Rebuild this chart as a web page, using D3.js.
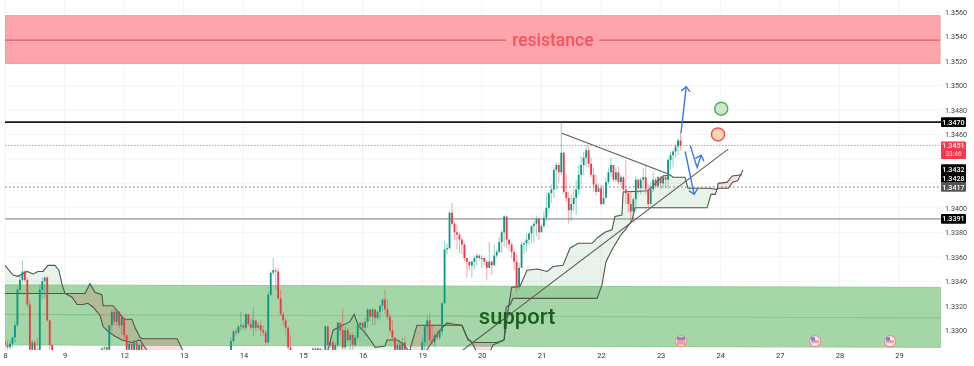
<!DOCTYPE html>
<html>
<head>
<meta charset="utf-8">
<title>USDCAD chart</title>
<script src="https://cdn.jsdelivr.net/npm/d3@7"></script>
<style>
    html, body { margin: 0; padding: 0; background: #fff; }
    svg { display: block; filter: blur(.45px); }
    text { font-family: Roboto, "Open Sans", sans-serif; }
</style>
</head>
<body>
<div id="canvas"></div>
<script>
"use strict"

/* Candles: hourly bars, hour 0 is the "8" tick. Bars that sit under the pane are left out, so there are segments */
const segmentStart = [0, 39, 91, 124, 168];
const segmentOpen = [1.3290, 1.3283, 1.3282, 1.3284, 1.3283];

const closeA = [1.3288, 1.3286, 1.3289, 1.3294, 1.3304, 1.3333, 1.3341, 1.3348, 1.3341, 1.3321, 1.3284, 1.3290, 1.3284, 1.3282, 1.3333, 1.3340, 1.3343, 1.3308, 1.3288, 1.3282];
const highA = [1.3292, 1.3292, 1.3292, 1.3295, 1.3307, 1.3335, 1.3345, 1.3357, 1.3349, 1.3343, 1.3325, 1.3292, 1.3292, 1.3294, 1.3337, 1.3343, 1.3344, 1.3344, 1.3308, 1.3288];
const lowA = [1.3282, 1.3282, 1.3284, 1.3286, 1.3290, 1.3303, 1.3331, 1.3339, 1.3339, 1.3318, 1.3282, 1.3282, 1.3282, 1.3281, 1.3282, 1.3325, 1.3326, 1.3307, 1.3284, 1.3280];

const closeB = [1.3285, 1.3286, 1.3284, 1.3304, 1.3315, 1.3307, 1.3315, 1.3304, 1.3310, 1.3296, 1.3284, 1.3289, 1.3284, 1.3290, 1.3283, 1.3288, 1.3284, 1.3282];
const highB = [1.3286, 1.3287, 1.3287, 1.3304, 1.3317, 1.3317, 1.3317, 1.3316, 1.3312, 1.3311, 1.3296, 1.3290, 1.3290, 1.3292, 1.3291, 1.3290, 1.3289, 1.3286];
const lowB = [1.3282, 1.3282, 1.3282, 1.3282, 1.3300, 1.3304, 1.3304, 1.3302, 1.3296, 1.3292, 1.3282, 1.3282, 1.3282, 1.3282, 1.3282, 1.3282, 1.3282, 1.3280];

const closeC = [1.3291, 1.3299, 1.3298, 1.3303, 1.3304, 1.3302, 1.3313, 1.3305, 1.3302, 1.3308, 1.3302, 1.3304, 1.3300, 1.3298, 1.3290, 1.3329, 1.3347, 1.3349, 1.3348, 1.3326, 1.3313, 1.3308, 1.3302, 1.3286, 1.3282];
const highC = [1.3294, 1.3300, 1.3302, 1.3304, 1.3315, 1.3306, 1.3314, 1.3313, 1.3310, 1.3319, 1.3308, 1.3307, 1.3308, 1.3304, 1.3300, 1.3331, 1.3348, 1.3359, 1.3351, 1.3351, 1.3333, 1.3315, 1.3310, 1.3304, 1.3296];
const lowC = [1.3282, 1.3290, 1.3295, 1.3297, 1.3300, 1.3300, 1.3300, 1.3303, 1.3300, 1.3295, 1.3299, 1.3300, 1.3295, 1.3295, 1.3288, 1.3290, 1.3328, 1.3345, 1.3333, 1.3325, 1.3312, 1.3304, 1.3296, 1.3284, 1.3281];

const closeD = [1.3285, 1.3283, 1.3285, 1.3280, 1.3280, 1.3303, 1.3288, 1.3290, 1.3284, 1.3288, 1.3306, 1.3300, 1.3286, 1.3300, 1.3292, 1.3296, 1.3288, 1.3294, 1.3304, 1.3306, 1.3302, 1.3307, 1.3317, 1.3311, 1.3317, 1.3310, 1.3315, 1.3320, 1.3325, 1.3317, 1.3311, 1.3300, 1.3294, 1.3284, 1.3288, 1.3283, 1.3290, 1.3284];
const highD = [1.3286, 1.3286, 1.3286, 1.3285, 1.3282, 1.3304, 1.3304, 1.3294, 1.3291, 1.3290, 1.3307, 1.3307, 1.3318, 1.3303, 1.3302, 1.3298, 1.3298, 1.3296, 1.3306, 1.3307, 1.3307, 1.3310, 1.3318, 1.3317, 1.3318, 1.3317, 1.3316, 1.3321, 1.3326, 1.3333, 1.3325, 1.3313, 1.3308, 1.3294, 1.3290, 1.3292, 1.3294, 1.3295];
const lowD = [1.3282, 1.3282, 1.3282, 1.3279, 1.3279, 1.3282, 1.3284, 1.3286, 1.3282, 1.3282, 1.3286, 1.3296, 1.3283, 1.3284, 1.3290, 1.3284, 1.3284, 1.3286, 1.3292, 1.3300, 1.3300, 1.3295, 1.3302, 1.3307, 1.3304, 1.3304, 1.3308, 1.3308, 1.3315, 1.3313, 1.3308, 1.3298, 1.3292, 1.3282, 1.3282, 1.3281, 1.3282, 1.3282];

const closeE = [
    1.3290, 1.3303, 1.3308, 1.3292, 1.3290, 1.3296, 1.3294, 1.3299, 1.3322, 1.3366,
    1.3367, 1.3396, 1.3387, 1.3380, 1.3378, 1.3374, 1.3370, 1.3359, 1.3356, 1.3353,
    1.3356, 1.3359, 1.3361, 1.3359, 1.3359, 1.3356, 1.3351, 1.3356, 1.3353, 1.3361,
    1.3364, 1.3372, 1.3380, 1.3393, 1.3374, 1.3370, 1.3364, 1.3356, 1.3335, 1.3351,
    1.3370, 1.3371, 1.3374, 1.3379, 1.3385, 1.3387, 1.3391, 1.3380, 1.3385, 1.3392,
    1.3400, 1.3412, 1.3415, 1.3431, 1.3435, 1.3429, 1.3445, 1.3413, 1.3408, 1.3398,
    1.3403, 1.3408, 1.3415, 1.3427, 1.3435, 1.3441, 1.3447, 1.3436, 1.3427, 1.3419,
    1.3413, 1.3416, 1.3403, 1.3408, 1.3421, 1.3429, 1.3435, 1.3423, 1.3429, 1.3421,
    1.3425, 1.3415, 1.3412, 1.3403, 1.3397, 1.3407, 1.3423, 1.3416, 1.3423, 1.3425,
    1.3415, 1.3403, 1.3415, 1.3423, 1.3418, 1.3425, 1.3420, 1.3425, 1.3423, 1.3439,
    1.3443, 1.3446, 1.3450, 1.3455, 1.3451];
const highE = [
    1.3294, 1.3304, 1.3312, 1.3314, 1.3304, 1.3299, 1.3300, 1.3300, 1.3323, 1.3373,
    1.3371, 1.3397, 1.3404, 1.3389, 1.3386, 1.3380, 1.3376, 1.3371, 1.3359, 1.3356,
    1.3357, 1.3361, 1.3363, 1.3362, 1.3361, 1.3359, 1.3357, 1.3372, 1.3357, 1.3370,
    1.3366, 1.3376, 1.3382, 1.3394, 1.3392, 1.3374, 1.3372, 1.3366, 1.3362, 1.3355,
    1.3372, 1.3373, 1.3379, 1.3380, 1.3386, 1.3389, 1.3393, 1.3392, 1.3387, 1.3397,
    1.3412, 1.3413, 1.3419, 1.3433, 1.3437, 1.3437, 1.3470, 1.3446, 1.3427, 1.3413,
    1.3411, 1.3415, 1.3423, 1.3435, 1.3442, 1.3446, 1.3451, 1.3451, 1.3441, 1.3433,
    1.3427, 1.3420, 1.3419, 1.3418, 1.3425, 1.3433, 1.3441, 1.3434, 1.3433, 1.3434,
    1.3427, 1.3426, 1.3439, 1.3411, 1.3413, 1.3408, 1.3426, 1.3423, 1.3425, 1.3433,
    1.3435, 1.3419, 1.3421, 1.3429, 1.3425, 1.3426, 1.3426, 1.3427, 1.3426, 1.3441,
    1.3446, 1.3447, 1.3452, 1.3457, 1.3462];
const lowE = [
    1.3282, 1.3282, 1.3288, 1.3290, 1.3288, 1.3286, 1.3292, 1.3292, 1.3296, 1.3321,
    1.3362, 1.3366, 1.3385, 1.3374, 1.3366, 1.3363, 1.3362, 1.3356, 1.3343, 1.3349,
    1.3343, 1.3349, 1.3353, 1.3357, 1.3351, 1.3353, 1.3341, 1.3351, 1.3345, 1.3353,
    1.3359, 1.3363, 1.3363, 1.3368, 1.3367, 1.3365, 1.3359, 1.3349, 1.3331, 1.3333,
    1.3353, 1.3362, 1.3364, 1.3370, 1.3371, 1.3372, 1.3377, 1.3374, 1.3380, 1.3384,
    1.3389, 1.3396, 1.3404, 1.3408, 1.3415, 1.3420, 1.3427, 1.3411, 1.3405, 1.3387,
    1.3389, 1.3397, 1.3394, 1.3411, 1.3419, 1.3427, 1.3433, 1.3433, 1.3425, 1.3413,
    1.3410, 1.3413, 1.3402, 1.3403, 1.3415, 1.3419, 1.3425, 1.3421, 1.3421, 1.3419,
    1.3418, 1.3413, 1.3403, 1.3396, 1.3389, 1.3390, 1.3397, 1.3411, 1.3411, 1.3415,
    1.3411, 1.3401, 1.3409, 1.3413, 1.3416, 1.3417, 1.3416, 1.3416, 1.3416, 1.3416,
    1.3431, 1.3433, 1.3441, 1.3443, 1.3447];

/* Cloud pieces as [hour, price]: top and bottom edge of each piece */
const cloudGreenTop = [
    [[0, 1.3353], [3.2, 1.3345], [5.2, 1.3344], [8.9, 1.3348], [11.3, 1.3346], [13.3, 1.3348], [15.3, 1.3348], [17.3, 1.3353], [20.1, 1.3353], [21.7, 1.3349], [23, 1.3337], [24.2, 1.3330]],
    [[129.5, 1.3280], [130.9, 1.3290], [132.1, 1.3300], [134.9, 1.3303], [138.9, 1.3307], [140.6, 1.3313], [142.2, 1.3304], [145, 1.3298], [147.8, 1.3290], [149, 1.3286], [153, 1.3287], [153.8, 1.3292], [157.9, 1.3292], [160.7, 1.3288], [162.3, 1.3284], [164, 1.3280]],
    [[201, 1.3292], [202.5, 1.3315], [204, 1.3335], [207.4, 1.3336], [210.2, 1.3349], [214.3, 1.3350], [218.3, 1.3348], [220.7, 1.3352], [224.7, 1.3353], [227.5, 1.3367], [230.8, 1.3371], [236.4, 1.3371], [238.8, 1.3376], [241.6, 1.3380], [244.4, 1.3382], [245.6, 1.3393], [248.4, 1.3394], [248.9, 1.3413], [259, 1.3414], [261.8, 1.3420], [265, 1.3426], [267.8, 1.3427], [269, 1.3425], [273.8, 1.3425], [275, 1.3416], [283.9, 1.3416], [286.7, 1.3415]]
];
const cloudGreenBottom = [
    [[0, 1.3330], [24.2, 1.3330]],
    [[129.5, 1.3280], [164, 1.3280]],
    [[201, 1.3292], [201.8, 1.3319], [203.4, 1.3321], [204.6, 1.3326], [238.4, 1.3326], [240.4, 1.3337], [242, 1.3356], [244.5, 1.3366], [247.7, 1.3377], [250.5, 1.3384], [252.5, 1.3390], [253.7, 1.3400], [282.7, 1.3400], [284.3, 1.3411], [286, 1.3411], [286.7, 1.3415]]
];
const cloudRedTop = [
    [[24.2, 1.3330], [32.2, 1.3330], [34.2, 1.3338], [36.2, 1.3331], [39, 1.3329], [39.5, 1.3320], [43.5, 1.3320], [45.5, 1.3315], [47.9, 1.3309], [51.1, 1.3309], [52.4, 1.3302], [54.4, 1.3294], [55.6, 1.3293], [69.3, 1.3293], [71.7, 1.3283]],
    [[163, 1.3284], [165.9, 1.3304], [184, 1.3304]],
    [[184, 1.3304], [186.5, 1.3292], [188, 1.3290], [198, 1.3290], [201, 1.3292]],
    [[286.7, 1.3415], [287.2, 1.3420], [290.8, 1.3421], [292.8, 1.3426], [296.8, 1.3427]]
];
const cloudRedBottom = [
    [[24.2, 1.3330], [27, 1.3327], [29, 1.3321], [31.4, 1.3321], [33.4, 1.3322], [35.4, 1.3319], [38.3, 1.3312], [39.5, 1.3303], [41.5, 1.3299], [44.3, 1.3295], [47.1, 1.3292], [51.1, 1.3290], [54.4, 1.3292], [55.6, 1.3288], [58.4, 1.3280], [71.7, 1.3280]],
    [[163, 1.3284], [167, 1.3280], [170, 1.3284], [172.4, 1.3292], [175.2, 1.3300], [178, 1.3306], [180.4, 1.3305], [184, 1.3304]],
    [[184, 1.3304], [186, 1.3294], [188, 1.3290], [190, 1.3282], [195.3, 1.3282], [196.5, 1.3288], [201, 1.3292]],
    [[286.7, 1.3415], [287.2, 1.3416], [291.2, 1.3416], [293, 1.3421], [295, 1.3422], [297.2, 1.3431]]
];

/* Drawings */
const resistanceZone = [1.3557, 1.3518];
const resistanceMid = 1.3537;
const supportZone = [[0, 1.3337], [377, 1.3335], [377, 1.3286], [0, 1.3288]];
const supportMid = [[0, 1.3313], [377, 1.3310]];
const trendDown = [[224.3, 1.3461], [266.6, 1.3428]];
const trendUp = [[183.2, 1.3282], [291.2, 1.3448]];
const arrowUp = [[272.2, 1.3461], [274.3, 1.3499]];
const arrowZig = [[275.9, 1.3451], [278.7, 1.3433], [280.3, 1.3443]];
const arrowDown = [[273.9, 1.3446], [277.5, 1.3411]];
const signalHours = [288.4, 287.1];
const signalPrices = [1.3481, 1.3460];
const eventHours = [272.2, 326.2, 356.4];
const eventPrice = 1.3291;

/* Axis labels. 1.3440 and 1.3420 only get a grid line, the tags cover their labels */
const dayHours = [0, 24, 48, 72, 96, 120, 144, 168, 192, 216, 240, 264, 288, 312, 336, 360];
const dayLabels = ["8", "9", "12", "13", "14", "15", "16", "19", "20", "21", "22", "23", "24", "27", "28", "29"];
const gridPrices = [1.3560, 1.3540, 1.3520, 1.3500, 1.3480, 1.3460, 1.3440, 1.3420, 1.3400, 1.3380, 1.3360, 1.3340, 1.3320, 1.3300];
const priceTicks = [1.3560, 1.3540, 1.3520, 1.3500, 1.3480, 1.3460, 1.3400, 1.3380, 1.3360, 1.3340, 1.3320, 1.3300];
const tagPrices = [1.3470, 1.3432, 1.3428, 1.3417, 1.3391];
const tagLabels = ["1.3470", "1.3432", "1.3428", "1.3417", "1.3391"];
const lastPrice = 1.3451;
const lastPriceLabel = "1.3451";
const countdownLabel = "33:46";

/* Configuration variables: drawing */
const svgWidth = 974;
const svgHeight = 366;
const leftEdge = 5;
const rightEdge = 941;
const paneBottom = 350;

const upColor = "#089981";
const downColor = "#f23645";
const cloudLineColor = "#4f5650";

const svg = d3.select("#canvas")
    .append("svg")
    .attr("width", svgWidth)
    .attr("height", svgHeight);

const defs = svg.append("defs");
defs.append("clipPath")
    .attr("id", "pane")
    .append("rect")
    .attr("x", leftEdge)
    .attr("y", 0)
    .attr("width", rightEdge - leftEdge)
    .attr("height", paneBottom);

/* Scales: 59.6px per day, 12.235px per 0.001 */
const xScale = d3.scaleLinear()
    .domain([0, 376.9])
    .range([leftEdge, rightEdge]);

const yScale = d3.scaleLinear()
    .domain([1.3560, 1.3300])
    .range([12, 330.2]);

const pairLine = d3.line()
    .x(function (d) { return xScale(d[0]); })
    .y(function (d) { return yScale(d[1]); });

/* Grid */
svg.append("g")
    .selectAll("line")
    .data(gridPrices)
    .join("line")
    .attr("x1", leftEdge)
    .attr("x2", rightEdge)
    .attr("y1", function (d) { return yScale(d); })
    .attr("y2", function (d) { return yScale(d); })
    .attr("stroke", "#f3f4f6");

svg.append("g")
    .selectAll("line")
    .data(dayHours)
    .join("line")
    .attr("x1", function (d) { return xScale(d); })
    .attr("x2", function (d) { return xScale(d); })
    .attr("y1", 0)
    .attr("y2", paneBottom)
    .attr("stroke", "#f3f4f6");

const pane = svg.append("g").attr("clip-path", "url(#pane)");

/* Resistance and support zones */
pane.append("rect")
    .attr("x", leftEdge)
    .attr("y", yScale(resistanceZone[0]))
    .attr("width", rightEdge - leftEdge - 1)
    .attr("height", yScale(resistanceZone[1]) - yScale(resistanceZone[0]))
    .attr("fill", "#fca5ab")
    .attr("stroke", "#f7959d");

pane.append("line")
    .attr("x1", leftEdge)
    .attr("x2", rightEdge - 1)
    .attr("y1", yScale(resistanceMid))
    .attr("y2", yScale(resistanceMid))
    .attr("stroke", "#d9616c")
    .attr("stroke-width", 1.2);

pane.append("path")
    .attr("d", pairLine(supportZone) + "Z")
    .attr("fill", "#a5d6a7")
    .attr("stroke", "#93cc96");

pane.append("path")
    .attr("d", pairLine(supportMid))
    .attr("fill", "none")
    .attr("stroke", "#86c68a")
    .attr("stroke-width", 1.2);

/* Horizontal levels */
function level(price, color, width, dash) {
    pane.append("line")
        .attr("x1", leftEdge)
        .attr("x2", rightEdge)
        .attr("y1", yScale(price))
        .attr("y2", yScale(price))
        .attr("stroke", color)
        .attr("stroke-width", width)
        .attr("stroke-dasharray", dash);
}
level(1.3470, "#1a1a1a", 1.8, null);
level(1.3391, "#b0b0b0", 1.8, null);
level(1.3417, "#666", 1.2, "1.5 2.5");
level(lastPrice, "#f4808a", 1, "1.5 1.5");

/* Cloud */
function drawCloud(tops, bottoms, fill) {
    for (let i = 0; i < tops.length; i++) {
        let outline = tops[i].concat(bottoms[i].slice().reverse());
        pane.append("path")
            .attr("d", pairLine(outline) + "Z")
            .attr("fill", fill);
        [tops[i], bottoms[i]].forEach(function (edge) {
            pane.append("path")
                .attr("d", pairLine(edge))
                .attr("fill", "none")
                .attr("stroke", cloudLineColor)
                .attr("stroke-width", 1.1);
        });
    }
}
drawCloud(cloudGreenTop, cloudGreenBottom, "rgba(67, 160, 71, .12)");
drawCloud(cloudRedTop, cloudRedBottom, "rgba(242, 54, 69, .16)");

/* Candles */
let candles = [];
[[closeA, highA, lowA], [closeB, highB, lowB], [closeC, highC, lowC], [closeD, highD, lowD], [closeE, highE, lowE]]
    .forEach(function (seg, s) {
        for (let i = 0; i < seg[0].length; i++) {
            candles.push({
                hour: segmentStart[s] + i,
                open: i == 0 ? segmentOpen[s] : seg[0][i - 1],
                close: seg[0][i],
                high: seg[1][i],
                low: seg[2][i]
            });
        }
    });

function candleColor(d) {
    return d.close >= d.open ? upColor : downColor;
}

pane.append("g")
    .selectAll("line")
    .data(candles)
    .join("line")
    .attr("x1", function (d) { return xScale(d.hour); })
    .attr("x2", function (d) { return xScale(d.hour); })
    .attr("y1", function (d) { return yScale(d.high); })
    .attr("y2", function (d) { return yScale(d.low); })
    .attr("stroke", candleColor)
    .attr("stroke-opacity", .45)
    .attr("stroke-width", 1);

pane.append("g")
    .selectAll("rect")
    .data(candles)
    .join("rect")
    .attr("x", function (d) { return xScale(d.hour) - .9; })
    .attr("width", 1.8)
    .attr("y", function (d) { return yScale(Math.max(d.open, d.close)); })
    .attr("height", function (d) { return Math.max(1, Math.abs(yScale(d.open) - yScale(d.close))); })
    .attr("fill", candleColor);

/* Trend lines */
[trendDown, trendUp].forEach(function (t) {
    pane.append("path")
        .attr("d", pairLine(t))
        .attr("fill", "none")
        .attr("stroke", "#5b5b5b")
        .attr("stroke-width", 1.1);
});

/* Arrows, the head is a small V at the last point */
function arrow(points) {
    pane.append("path")
        .attr("d", pairLine(points))
        .attr("fill", "none")
        .attr("stroke", "#3b78e7")
        .attr("stroke-width", 1.4);

    let last = points[points.length - 1];
    let prev = points[points.length - 2];
    let tipX = xScale(last[0]);
    let tipY = yScale(last[1]);
    let angle = Math.atan2(yScale(prev[1]) - tipY, xScale(prev[0]) - tipX);
    let head = [angle - .75, angle + .75].map(function (a) {
        return [tipX + 6.5 * Math.cos(a), tipY + 6.5 * Math.sin(a)];
    });
    pane.append("path")
        .attr("d", d3.line()([head[0], [tipX, tipY], head[1]]))
        .attr("fill", "none")
        .attr("stroke", "#3b78e7")
        .attr("stroke-width", 1.4);
}
arrow(arrowUp);
arrow(arrowZig);
arrow(arrowDown);

/* Green and red signal circles */
const signalFill = ["#cfe6cd", "#fbd7ae"];
const signalStroke = ["#57b05b", "#f0505a"];
for (let i = 0; i < signalHours.length; i++) {
    svg.append("circle")
        .attr("cx", xScale(signalHours[i]))
        .attr("cy", yScale(signalPrices[i]))
        .attr("r", 6.5)
        .attr("fill", signalFill[i])
        .attr("stroke", signalStroke[i])
        .attr("stroke-width", 1.5);
}

/* Zone names */
const resistanceText = svg.append("text")
    .attr("x", xScale(220.6))
    .attr("y", yScale(resistanceMid))
    .attr("text-anchor", "middle")
    .attr("dominant-baseline", "central")
    .attr("font-size", 17.5)
    .attr("font-weight", 500)
    .attr("fill", "#f7525f")
    .text("resistance");

const box = resistanceText.node().getBBox();
svg.insert("rect", "text")
    .attr("x", box.x - 6)
    .attr("y", yScale(resistanceMid) - 2)
    .attr("width", box.width + 12)
    .attr("height", 4)
    .attr("fill", "#fca5ab");

svg.append("text")
    .attr("x", xScale(206.2))
    .attr("y", yScale(1.3311))
    .attr("text-anchor", "middle")
    .attr("dominant-baseline", "central")
    .attr("font-size", 22)
    .attr("font-weight", 500)
    .attr("fill", "#1b5e20")
    .text("support");

/* Event flags near the bottom */
eventHours.forEach(function (h, i) {
    let g = svg.append("g")
        .attr("transform", "translate(" + xScale(h) + "," + yScale(eventPrice) + ")");
    g.append("circle")
        .attr("r", 5.5)
        .attr("fill", "#f4f0f2")
        .attr("stroke", "#f28b8f")
        .attr("stroke-width", 1.2);
    g.append("rect")
        .attr("x", -4)
        .attr("y", i == 0 ? -3.5 : -1)
        .attr("width", 8)
        .attr("height", i == 0 ? 7 : 3)
        .attr("fill", "#f28b8f")
        .attr("opacity", .85);
    g.append("rect")
        .attr("x", -4)
        .attr("y", -4)
        .attr("width", i == 0 ? 8 : 4)
        .attr("height", i == 0 ? 2.5 : 3.5)
        .attr("fill", "#5b8fe0");
});

/* Axes */
const xAxis = svg.append("g")
    .attr("transform", "translate(0," + 351 + ")")
    .call(d3.axisBottom(xScale)
        .tickValues(dayHours)
        .tickFormat(function (d, i) { return dayLabels[i]; })
        .tickSize(0)
        .tickPadding(2));
xAxis.select(".domain").remove();
xAxis.selectAll("text")
    .attr("font-size", 7.5)
    .attr("fill", "#333");

const yAxis = svg.append("g")
    .attr("transform", "translate(" + 944 + ",0)")
    .call(d3.axisRight(yScale)
        .tickValues(priceTicks)
        .tickFormat(d3.format(".4f"))
        .tickSize(0)
        .tickPadding(1));
yAxis.select(".domain").remove();
yAxis.selectAll("text")
    .attr("font-size", 7.2)
    .attr("fill", "#444");

/* Price tags, the chart pushes the 1.3428 tag down so it clears 1.3432 */
const tagColors = ["#000", "#000", "#000", "#555", "#000"];
const tagNudge = [0, 0.5, 4.5, 0, 0];
for (let i = 0; i < tagPrices.length; i++) {
    let tagY = yScale(tagPrices[i]) + tagNudge[i];
    svg.append("rect")
        .attr("x", 941)
        .attr("y", tagY - 4.8)
        .attr("width", 25)
        .attr("height", 9.6)
        .attr("rx", 1)
        .attr("fill", tagColors[i]);
    svg.append("text")
        .attr("x", 953.5)
        .attr("y", tagY)
        .attr("text-anchor", "middle")
        .attr("dominant-baseline", "central")
        .attr("font-size", 7.2)
        .attr("font-weight", 500)
        .attr("fill", "#fff")
        .text(tagLabels[i]);
}

svg.append("rect")
    .attr("x", 941)
    .attr("y", yScale(lastPrice) - 4)
    .attr("width", 25)
    .attr("height", 17.5)
    .attr("rx", 1)
    .attr("fill", "#f7384a");
svg.append("text")
    .attr("x", 953.5)
    .attr("y", yScale(lastPrice))
    .attr("text-anchor", "middle")
    .attr("dominant-baseline", "central")
    .attr("font-size", 7.2)
    .attr("font-weight", 500)
    .attr("fill", "#fff")
    .text(lastPriceLabel);
svg.append("text")
    .attr("x", 953.5)
    .attr("y", yScale(lastPrice) + 8.5)
    .attr("text-anchor", "middle")
    .attr("dominant-baseline", "central")
    .attr("font-size", 6.5)
    .attr("fill", "#ffd5d9")
    .text(countdownLabel);
</script>
</body>
</html>
